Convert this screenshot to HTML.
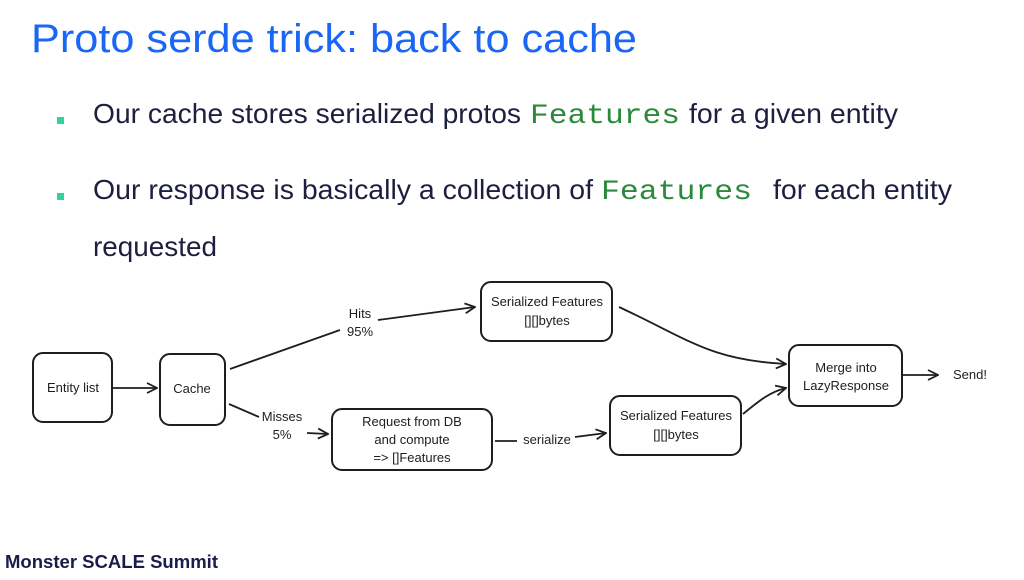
<!DOCTYPE html>
<html><head><meta charset="utf-8"><style>
html,body{margin:0;padding:0;background:#fff;width:1024px;height:580px;overflow:hidden}
svg{display:block}
</style></head><body>
<svg width="1024" height="580" viewBox="0 0 1024 580" xmlns="http://www.w3.org/2000/svg">
<defs>
<marker id="a" viewBox="0 0 12 12" refX="11" refY="6" markerWidth="12" markerHeight="12" markerUnits="userSpaceOnUse" orient="auto">
<path d="M1,1 L11,6 L1,11" fill="none" stroke="#1e1e1e" stroke-width="1.8"/>
</marker>
</defs>
<text x="31" y="52" font-family="Liberation Sans, sans-serif" font-size="40" fill="#1a66f5" textLength="606" lengthAdjust="spacingAndGlyphs">Proto serde trick: back to cache</text>
<g font-family="Liberation Sans, sans-serif" font-size="28" fill="#1c1f3f">
<rect x="57" y="117" width="7" height="7" fill="#2dd4a0"/>
<text x="93" y="123" textLength="428" lengthAdjust="spacingAndGlyphs">Our cache stores serialized protos</text>
<text x="530" y="123" font-family="Liberation Mono, monospace" fill="#2a8a3a" textLength="150" lengthAdjust="spacingAndGlyphs">Features</text>
<text x="689" y="123" textLength="209" lengthAdjust="spacingAndGlyphs">for a given entity</text>
<rect x="57" y="193" width="7" height="7" fill="#2dd4a0"/>
<text x="93" y="199" textLength="500" lengthAdjust="spacingAndGlyphs">Our response is basically a collection of</text>
<text x="601" y="199" font-family="Liberation Mono, monospace" fill="#2a8a3a" textLength="151" lengthAdjust="spacingAndGlyphs">Features</text>
<text x="773" y="199" textLength="179" lengthAdjust="spacingAndGlyphs">for each entity</text>
<text x="93" y="256" textLength="124" lengthAdjust="spacingAndGlyphs">requested</text>
</g>
<g fill="none" stroke="#1e1e1e" stroke-width="2">
<rect x="33" y="353" width="79" height="69" rx="10"/>
<rect x="160" y="354" width="65" height="71" rx="10"/>
<rect x="481" y="282" width="131" height="59" rx="10"/>
<rect x="332" y="409" width="160" height="61" rx="10"/>
<rect x="610" y="396" width="131" height="59" rx="10"/>
<rect x="789" y="345" width="113" height="61" rx="10"/>
</g>
<g fill="none" stroke="#1e1e1e" stroke-width="1.8">
<path d="M113,388 L157,388" marker-end="url(#a)"/>
<path d="M230,369 L340,330"/>
<path d="M378,320 L475,307" marker-end="url(#a)"/>
<path d="M229,404 L259,417"/>
<path d="M307,433 L328,434" marker-end="url(#a)"/>
<path d="M495,441 L517,441"/>
<path d="M575,437 L606,433" marker-end="url(#a)"/>
<path d="M619,307 C690,340 710,360 786,364" marker-end="url(#a)"/>
<path d="M743,414 C760,400 770,392 786,388" marker-end="url(#a)"/>
<path d="M903,375 L938,375" marker-end="url(#a)"/>
</g>
<g font-family="Liberation Sans, sans-serif" font-size="13" fill="#1e1e1e" text-anchor="middle">
<text x="73" y="392">Entity list</text>
<text x="192" y="393">Cache</text>
<text x="547" y="306">Serialized Features</text>
<text x="547" y="325">[][]bytes</text>
<text x="412" y="426">Request from DB</text>
<text x="412" y="444">and compute</text>
<text x="412" y="462">=&gt; []Features</text>
<text x="676" y="420">Serialized Features</text>
<text x="676" y="439">[][]bytes</text>
<text x="846" y="372">Merge into</text>
<text x="846" y="390">LazyResponse</text>
<text x="360" y="318">Hits</text>
<text x="360" y="336">95%</text>
<text x="282" y="421">Misses</text>
<text x="282" y="439">5%</text>
<text x="547" y="444">serialize</text>
<text x="970" y="379">Send!</text>
</g>
<text x="5" y="568" font-family="Liberation Sans, sans-serif" font-weight="bold" font-size="18" fill="#1a1c4a" textLength="213" lengthAdjust="spacingAndGlyphs">Monster SCALE Summit</text>
</svg>
</body></html>
